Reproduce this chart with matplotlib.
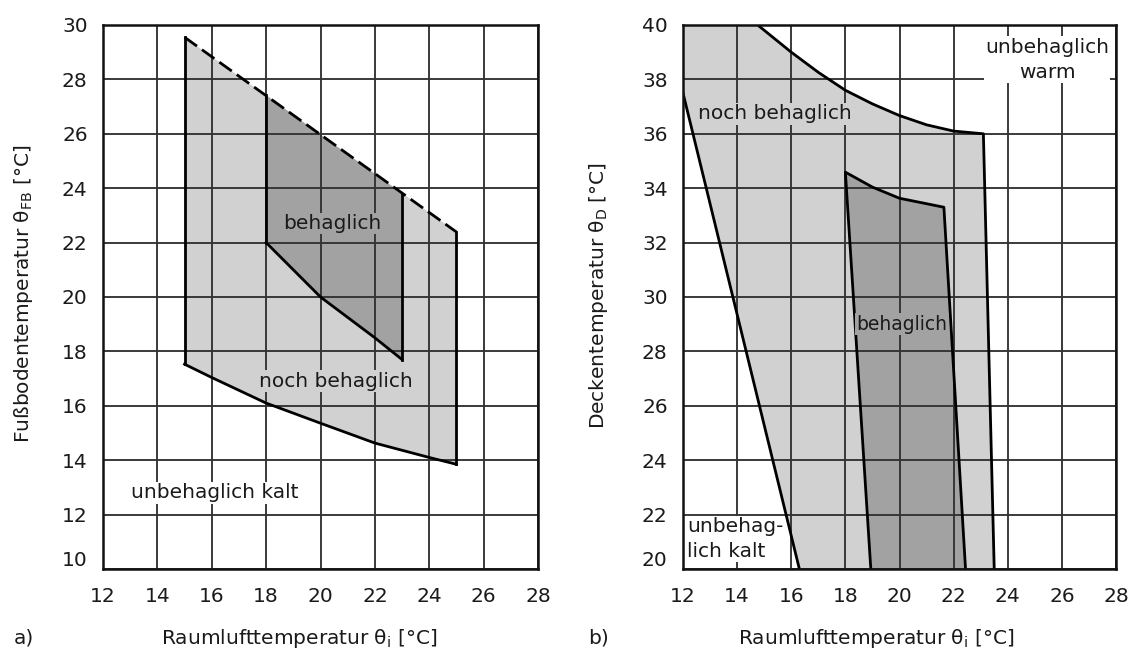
import matplotlib
matplotlib.use("Agg")
import matplotlib.pyplot as plt
from matplotlib.patches import Polygon
from matplotlib.transforms import ScaledTranslation

plt.rcParams['font.family'] = ['DejaVu Sans']
plt.rcParams['mathtext.fontset'] = 'dejavusans'

# ---------------- data: panel a (floor temperature) ----------------
a_xticks = [12, 14, 16, 18, 20, 22, 24, 26, 28]
a_yticks = [10, 12, 14, 16, 18, 20, 22, 24, 26, 28, 30]
# upper limit (dashed) of "noch behaglich"
a_outer_top_x = [15, 25]
a_outer_top_y = [29.55, 22.39]
# lower limit of "noch behaglich"
a_outer_bot_x = [15, 16, 18, 20, 22, 24, 25]
a_outer_bot_y = [17.53, 17.04, 16.1, 15.36, 14.63, 14.1, 13.85]
# "behaglich" region
a_inner_top_x = [18, 23]
a_inner_top_y = [27.42, 23.8]
a_inner_bot_x = [18, 19, 20, 21, 22, 23]
a_inner_bot_y = [22.0, 21.0, 20.0, 19.25, 18.5, 17.7]

# ---------------- data: panel b (ceiling temperature) ----------------
b_xticks = [12, 14, 16, 18, 20, 22, 24, 26, 28]
b_yticks = [20, 22, 24, 26, 28, 30, 32, 34, 36, 38, 40]
b_upper_x = [14.76, 16, 17, 18, 19, 20, 21, 22, 23.1]
b_upper_y = [40, 39.0, 38.26, 37.6, 37.1, 36.67, 36.33, 36.1, 36.0]
b_right_x = [23.1, 23.5]
b_right_y = [36.0, 20.0]
b_left_x = [12, 16.3]
b_left_y = [37.5, 20.0]
b_in_top_x = [18, 19, 20, 21, 21.64]
b_in_top_y = [34.59, 34.04, 33.63, 33.43, 33.3]
b_in_bot_x = [18.94, 22.44]
b_in_bot_y = [20.0, 20.0]

LIGHT = '#d1d1d1'
DARK = '#a2a2a2'
GRID = '#333333'
TXT = '#1a1a1a'
LW = 2.0
FS = 14.5

fig = plt.figure(figsize=(11.3, 6.52), dpi=100)
W, H = 1130, 652
ax1 = fig.add_axes([103 / W, 1 - 569 / H, 435 / W, 544 / H])
ax2 = fig.add_axes([683 / W, 1 - 569 / H, 433 / W, 544 / H])


def style(ax, xt, yt):
    ax.set_xlim(xt[0], xt[-1])
    ax.set_ylim(yt[0], yt[-1])
    ax.set_xticks(xt)
    ax.set_yticks(yt)
    ax.set_axisbelow(False)
    ax.grid(True, color=GRID, lw=1.35)
    ax.tick_params(length=0, labelsize=14.5, colors=TXT)
    ax.tick_params(axis='x', pad=13)
    ax.tick_params(axis='y', pad=11)
    for s in ax.spines.values():
        s.set_linewidth(1.8)
        s.set_color('#111111')
        s.set_zorder(6)
    # lowest y label sits slightly higher in the reference
    lab = ax.yaxis.get_major_ticks()[0].label1
    lab.set_transform(lab.get_transform() + ScaledTranslation(0, 0.1, fig.dpi_scale_trans))


style(ax1, a_xticks, a_yticks)
style(ax2, b_xticks, b_yticks)

# ---------- panel a ----------
outer = list(zip(a_outer_top_x, a_outer_top_y)) + list(zip(a_outer_bot_x[::-1], a_outer_bot_y[::-1]))
ax1.add_patch(Polygon(outer, closed=True, fc=LIGHT, ec='none', zorder=1))
inner = list(zip(a_inner_top_x, a_inner_top_y)) + list(zip(a_inner_bot_x[::-1], a_inner_bot_y[::-1]))
ax1.add_patch(Polygon(inner, closed=True, fc=DARK, ec='none', zorder=1.5))

ax1.plot(a_outer_top_x, a_outer_top_y, color='black', lw=LW, ls=(0, (5.5, 2.2)), zorder=4)
ax1.plot(a_outer_bot_x, a_outer_bot_y, color='black', lw=LW, zorder=4)
ax1.plot([a_outer_top_x[0], a_outer_bot_x[0]], [a_outer_top_y[0], a_outer_bot_y[0]], color='black', lw=LW, zorder=4)
ax1.plot([a_outer_top_x[-1], a_outer_bot_x[-1]], [a_outer_top_y[-1], a_outer_bot_y[-1]], color='black', lw=LW, zorder=4)
ax1.plot(a_inner_bot_x, a_inner_bot_y, color='black', lw=LW, zorder=4)
ax1.plot([a_inner_top_x[0], a_inner_bot_x[0]], [a_inner_top_y[0], a_inner_bot_y[0]], color='black', lw=LW, zorder=4)
ax1.plot([a_inner_top_x[-1], a_inner_bot_x[-1]], [a_inner_top_y[-1], a_inner_bot_y[-1]], color='black', lw=LW, zorder=4)

ax1.text(20.45, 22.7, 'behaglich', ha='center', va='center', fontsize=FS, color=TXT,
         bbox=dict(fc=DARK, ec='none', pad=1), zorder=5)
ax1.text(20.55, 16.9, 'noch behaglich', ha='center', va='center', fontsize=FS, color=TXT,
         bbox=dict(fc=LIGHT, ec='none', pad=1), zorder=5)
ax1.text(16.1, 12.8, 'unbehaglich kalt', ha='center', va='center', fontsize=FS, color=TXT,
         bbox=dict(fc='white', ec='none', pad=1), zorder=5)

# ---------- panel b ----------
light_b = ([(b_left_x[0], 40)] + list(zip(b_upper_x, b_upper_y)) +
           [(b_right_x[-1], b_right_y[-1]), (b_left_x[-1], b_left_y[-1]), (b_left_x[0], b_left_y[0])])
ax2.add_patch(Polygon(light_b, closed=True, fc=LIGHT, ec='none', zorder=1))
dark_b = list(zip(b_in_top_x, b_in_top_y)) + [(b_in_bot_x[1], b_in_bot_y[1]), (b_in_bot_x[0], b_in_bot_y[0])]
ax2.add_patch(Polygon(dark_b, closed=True, fc=DARK, ec='none', zorder=1.5))

ax2.plot(b_upper_x + b_right_x[1:], b_upper_y + b_right_y[1:], color='black', lw=LW, zorder=4)
ax2.plot(b_left_x, b_left_y, color='black', lw=LW, zorder=4)
ax2.plot([b_in_bot_x[0]] + b_in_top_x + [b_in_bot_x[1]], [b_in_bot_y[0]] + b_in_top_y + [b_in_bot_y[1]],
         color='black', lw=LW, zorder=4)

ax2.text(15.4, 36.73, 'noch behaglich', ha='center', va='center', fontsize=FS, color=TXT,
         bbox=dict(fc=LIGHT, ec='none', pad=1), zorder=5)
ax2.text(20.1, 29.0, 'behaglich', ha='center', va='center', fontsize=13.5, color=TXT,
         bbox=dict(fc=DARK, ec='none', pad=1), zorder=5)
ax2.text(25.45, 38.72, 'unbehaglich\nwarm', ha='center', va='center', fontsize=FS, color=TXT,
         linespacing=1.4, bbox=dict(fc='white', ec='none', pad=1), zorder=5)
ax2.text(12.15, 21.1, 'unbehag-\nlich kalt', ha='left', va='center', fontsize=FS, color=TXT,
         linespacing=1.35, bbox=dict(fc='white', ec='none', pad=1), zorder=5)

# ---------- axis labels ----------
fig.text(299 / W, 1 - 638 / H, r'Raumlufttemperatur $\mathregular{\theta_i}$ [°C]', ha='center', va='center',
         fontsize=FS, color=TXT)
fig.text(876 / W, 1 - 638 / H, r'Raumlufttemperatur $\mathregular{\theta_i}$ [°C]', ha='center', va='center',
         fontsize=FS, color=TXT)
fig.text(24 / W, 1 - 294 / H, r'Fußbodentemperatur $\mathregular{\theta_{FB}}$ [°C]', ha='center', va='center',
         rotation=90, fontsize=FS, color=TXT)
fig.text(598 / W, 1 - 295 / H, r'Deckentemperatur $\mathregular{\theta_D}$ [°C]', ha='center', va='center',
         rotation=90, fontsize=FS, color=TXT)
fig.text(24 / W, 1 - 638 / H, 'a)', ha='center', va='center', fontsize=FS, color=TXT)
fig.text(599 / W, 1 - 638 / H, 'b)', ha='center', va='center', fontsize=FS, color=TXT)

fig.savefig('out.png', dpi=100, facecolor='white')
